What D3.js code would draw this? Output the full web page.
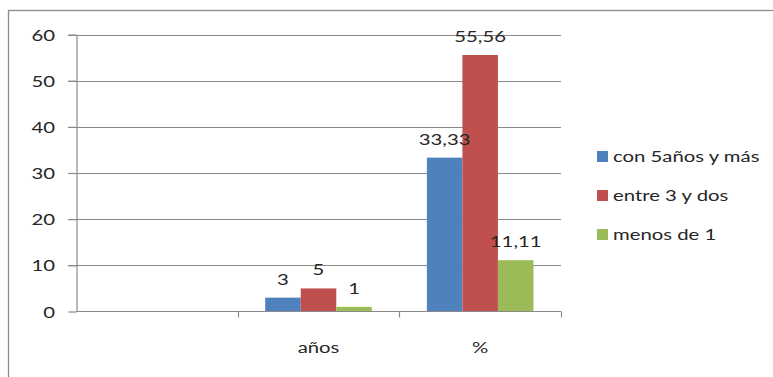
<!DOCTYPE html>
<html>
<head>
<meta charset="utf-8">
<script src="https://cdn.jsdelivr.net/npm/d3@7"></script>
<style>
  html, body { margin: 0; padding: 0; background: #fff; }
  svg { display: block; }
  text { font-family: Lato, "Open Sans", sans-serif; fill: #262626; font-size: 16px; }
</style>
</head>
<body>
<svg id="chart" width="773" height="377"></svg>
<script>
// Categories along the x axis (the first slot is blank)
const categories = ["", "años", "%"];
// Series names for the legend
const seriesNames = ["con 5años y más", "entre 3 y dos", "menos de 1"];
// Values per series, one per category (null = no bar)
const conCinco = [null, 3, 33.33];
const entreTres = [null, 5, 55.56];
const menosUno = [null, 1, 11.11];
const seriesValues = [conCinco, entreTres, menosUno];
// Labels shown above each bar
const conCincoLabels = [null, "3", "33,33"];
const entreTresLabels = [null, "5", "55,56"];
const menosUnoLabels = [null, "1", "11,11"];
const seriesLabels = [conCincoLabels, entreTresLabels, menosUnoLabels];
const yTicks = [0, 10, 20, 30, 40, 50, 60];
const colors = ["#4F81BD", "#C0504D", "#9BBB59"];

const svg = d3.select("#chart");
const GRID = "#8a8a8a";
const SX = 1.27; // horizontal text widening

// text placed at (x, y) and widened horizontally
function label(parent, x, y, str, anchor) {
  parent.append("g").attr("transform", `translate(${x},${y}) scale(${SX},1)`)
    .append("text").attr("text-anchor", anchor || "start").text(str);
}

// outer chart frame
svg.append("rect")
  .attr("x", 8.5).attr("y", 10.5)
  .attr("width", 800).attr("height", 400)
  .attr("fill", "none").attr("stroke", "#8c8c8c").attr("stroke-width", 1.3);

const plot = { left: 76, right: 561, top: 34.5, bottom: 311.5 };

const x = d3.scaleBand().domain(categories).range([plot.left, plot.right]);
const y = d3.scaleLinear().domain([0, 60]).range([plot.bottom, plot.top]);
const xInner = d3.scaleBand().domain(d3.range(seriesNames.length))
  .range([0, x.bandwidth()]).paddingOuter(0.775).paddingInner(0);

// gridlines
svg.append("g").selectAll("line").data(yTicks.filter(d => d > 0)).join("line")
  .attr("x1", plot.left - 8).attr("x2", plot.right)
  .attr("y1", d => Math.round(y(d)) + 0.5).attr("y2", d => Math.round(y(d)) + 0.5)
  .attr("stroke", GRID).attr("stroke-width", 1.2);

// y axis
const yAxis = svg.append("g").attr("transform", `translate(${plot.left + 0.5},0)`)
  .call(d3.axisLeft(y).tickValues(yTicks).tickSize(8).tickFormat("").tickSizeOuter(0));
yAxis.select(".domain").attr("stroke", GRID).attr("stroke-width", 1.2);
yAxis.selectAll(".tick line").attr("stroke", GRID).attr("stroke-width", 1.2);
const yLabels = svg.append("g");
yTicks.forEach(t => label(yLabels, 55, y(t) + 6, String(t), "end"));

// bars
const groups = svg.append("g").selectAll("g").data(categories).join("g")
  .attr("transform", d => `translate(${x(d)},0)`);
groups.each(function (cat, ci) {
  const g = d3.select(this);
  seriesValues.forEach((vals, si) => {
    const v = vals[ci];
    if (v == null) return;
    g.append("rect")
      .attr("x", xInner(si)).attr("width", xInner.bandwidth())
      .attr("y", y(v)).attr("height", y(0) - y(v))
      .attr("fill", colors[si]);
  });
  seriesValues.forEach((vals, si) => {
    const v = vals[ci];
    if (v == null) return;
    label(g, xInner(si) + xInner.bandwidth() / 2, y(v) - 13, seriesLabels[si][ci], "middle");
  });
});

// x axis line and category boundary ticks
svg.append("line")
  .attr("x1", plot.left).attr("x2", plot.right)
  .attr("y1", plot.bottom).attr("y2", plot.bottom)
  .attr("stroke", GRID).attr("stroke-width", 1.2);
svg.append("g").selectAll("line").data(categories.slice(1).concat(["__end"])).join("line")
  .attr("x1", d => Math.round(d === "__end" ? plot.right : x(d)) + 0.5)
  .attr("x2", d => Math.round(d === "__end" ? plot.right : x(d)) + 0.5)
  .attr("y1", plot.bottom).attr("y2", plot.bottom + 6)
  .attr("stroke", GRID).attr("stroke-width", 1.2);
const xLabels = svg.append("g");
categories.forEach(c => {
  if (c) label(xLabels, x(c) + x.bandwidth() / 2, plot.bottom + 41, c, "middle");
});

// legend
const legend = svg.append("g").attr("transform", "translate(597,0)");
const legendY = [156, 195, 234];
seriesNames.forEach((name, i) => {
  legend.append("rect").attr("x", 0).attr("y", legendY[i] - 5)
    .attr("width", 11).attr("height", 11).attr("fill", colors[i]);
  label(legend, 16, legendY[i] + 6, name, "start");
});
</script>
</body>
</html>
